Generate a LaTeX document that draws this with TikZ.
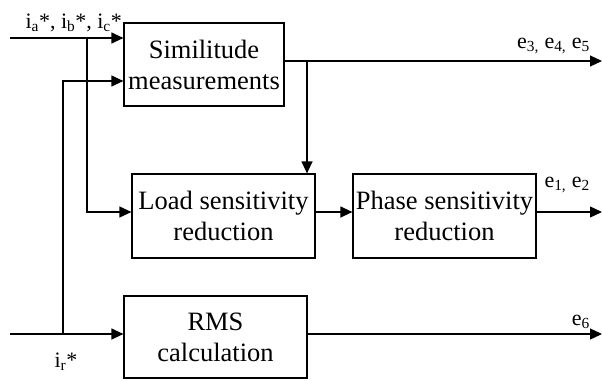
\documentclass[tikz,border=0pt]{standalone}
\usepackage{fontspec}
\setmainfont{Liberation Serif}
\usetikzlibrary{arrows.meta}
\tikzset{
  blockbox/.style={draw, line width=1.2pt, align=center, inner sep=0pt,
    font=\fontsize{26.5}{31}\selectfont},
  arr/.style={line width=1.2pt, -{Triangle[length=12pt,width=11pt]}},
  lbl/.style={inner sep=0pt, font=\fontsize{22}{26}\selectfont},
}
\begin{document}
\begin{tikzpicture}[x=1pt,y=-1pt]
\useasboundingbox (0,0) rectangle (602,380);
% blocks
\node[blockbox, minimum width=160pt, minimum height=83pt] (sim) at (204,64.5) {Similitude\\measurements};
\node[blockbox, minimum width=183pt, minimum height=84pt] (load) at (223.5,216) {Load sensitivity\\reduction};
\node[blockbox, minimum width=183pt, minimum height=84pt] (phase) at (444.5,216) {Phase sensitivity\\reduction};
\node[blockbox, minimum width=183pt, minimum height=82pt] (rms) at (215.5,337) {RMS\\calculation};
% coordinates
\coordinate (inabc) at (10,38);
\coordinate (inr) at (10,334);
\coordinate (bA) at (87,38);
\coordinate (cA) at (87,212);
\coordinate (bR) at (63,334);
\coordinate (cR) at (63,81);
\coordinate (bS) at (307,61);
\coordinate (oS) at (602,61);
\coordinate (oP) at (602,212);
\coordinate (oR) at (602,334);
% connectors
\draw[arr] (inabc) -- (sim.west |- inabc);
\draw[arr] (bA) -- (cA) -- (load.west |- cA);
\draw[arr] (inr) -- (rms.west |- inr);
\draw[arr] (bR) -- (cR) -- (sim.west |- cR);
\draw[arr] (sim.east |- oS) -- (oS);
\draw[arr] (bS) -- (bS |- load.north);
\draw[arr] (load.east |- oP) -- (phase.west |- oP);
\draw[arr] (phase.east |- oP) -- (oP);
\draw[arr] (rms.east |- oR) -- (oR);
% labels
\node[lbl, anchor=base east] (labc) at (122,28) {i\textsubscript{a}*, i\textsubscript{b}*, i\textsubscript{c}*};
\node[lbl, anchor=base] (lr) at (66,367) {i\textsubscript{r}*};
\node[lbl, anchor=base east] (l345) at (590,48) {e\textsubscript{3,} e\textsubscript{4,} e\textsubscript{5}};
\node[lbl, anchor=base east] (l12) at (590,187) {e\textsubscript{1,} e\textsubscript{2}};
\node[lbl, anchor=base east] (l6) at (590,325) {e\textsubscript{6}};
\end{tikzpicture}
\end{document}
